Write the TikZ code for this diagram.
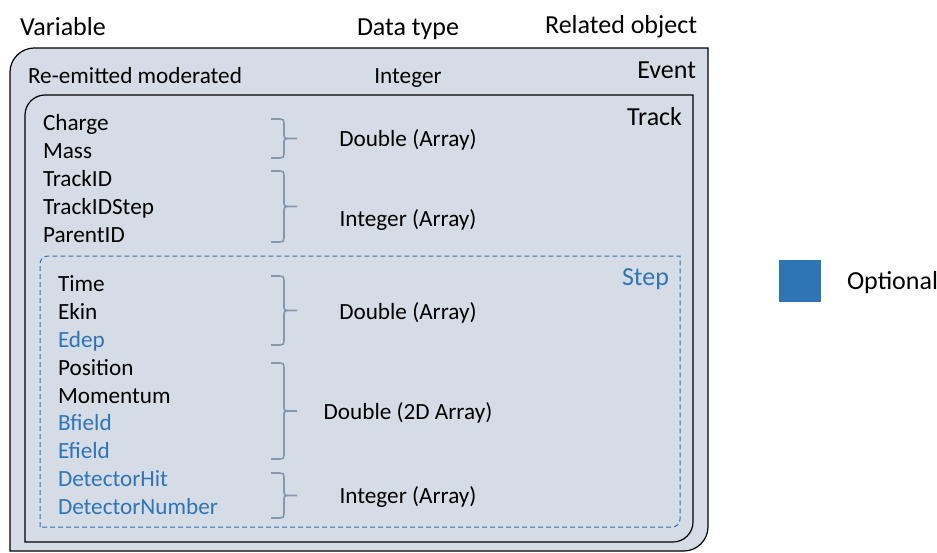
\documentclass[tikz,border=0pt]{standalone}
\usepackage{fontspec}
\setmainfont{Carlito}
\definecolor{boxfill}{HTML}{D6DCE5}
\definecolor{optblue}{HTML}{2E75B6}
\definecolor{bracecol}{HTML}{8497B0}
\begin{document}
\begin{tikzpicture}[x=1pt,y=-1pt,
  body/.style={inner sep=0pt,outer sep=0pt,font=\fontsize{23.2}{27}\selectfont},
  big/.style={inner sep=0pt,outer sep=0pt,font=\fontsize{26}{30}\selectfont},
  opt/.style={text=optblue},
  brc/.style={draw=bracecol,line width=1.6pt}]
\useasboundingbox (0,0) rectangle (937,552);
% containers
\path[draw=black,line width=1.2pt,fill=boxfill] (10,551) -- (10,72) .. controls (10,59) and (21,48) .. (34,48) -- (708,48) -- (708,527) .. controls (708,540) and (697,551) .. (684,551) -- cycle;
\path[draw=black,line width=1.2pt,fill=boxfill] (25,542) -- (25,115) .. controls (25,104) and (34,95) .. (45,95) -- (693,95) -- (693,522) .. controls (693,533) and (684,542) .. (673,542) -- cycle;
\path[draw=optblue,line width=1pt,dash pattern=on 5pt off 3pt] (40,527) -- (40,264) .. controls (40,259.5) and (43.5,256) .. (48,256) -- (680,256) -- (680,519) .. controls (680,523.5) and (676.5,527) .. (672,527) -- cycle;
% headers
\node[big,anchor=base west] (hvar) at (20,35) {Variable};
\node[big,anchor=base] (hdt) at (408,35) {Data type};
\node[big,anchor=base east] (hrel) at (697,33) {Related object};
% event
\node[big,anchor=base east] (event) at (696,78) {Event};
\node[body,anchor=base west] (reem) at (28,83) {Re-emitted moderated};
\node[body,anchor=base] (reint) at (408,83) {Integer};
% track
\node[big,anchor=base east] (track) at (682,125) {Track};
\node[body,anchor=base west] (charge) at (43,130) {Charge};
\node[body,anchor=base west] (mass) at (43,158) {Mass};
\node[body,anchor=base west] (tid) at (43,186) {TrackID};
\node[body,anchor=base west] (tids) at (43,214) {TrackIDStep};
\node[body,anchor=base west] (pid) at (43,242) {ParentID};
\node[body,anchor=base] (dt1) at (408,146) {Double (Array)};
\node[body,anchor=base] (dt2) at (408,226) {Integer (Array)};
% step
\node[big,anchor=base east,opt] (step) at (669,285) {Step};
\node[body,anchor=base west] (time) at (58,291) {Time};
\node[body,anchor=base west] (ekin) at (58,319) {Ekin};
\node[body,anchor=base west,opt] (edep) at (58,347) {Edep};
\node[body,anchor=base west] (pos) at (58,375) {Position};
\node[body,anchor=base west] (mom) at (58,403) {Momentum};
\node[body,anchor=base west,opt] (bf) at (58,430) {Bfield};
\node[body,anchor=base west,opt] (ef) at (58,458) {Efield};
\node[body,anchor=base west,opt] (dh) at (58,486) {DetectorHit};
\node[body,anchor=base west,opt] (dn) at (58,514) {DetectorNumber};
\node[body,anchor=base] (dt3) at (408,319) {Double (Array)};
\node[body,anchor=base] (dt4) at (408,419) {Double (2D Array)};
\node[body,anchor=base] (dt5) at (408,503) {Integer (Array)};
% braces
\foreach \t/\b in {119/158, 171/242, 276/345, 363/459, 473/518}{
  \pgfmathsetmacro{\m}{(\t+\b)/2}
  \draw[brc] (271,\t) -- (280,\t) .. controls (283,\t) and (284,\t+1) .. (284,\t+4) -- (284,\m-3) .. controls (284,\m-1) and (285,\m) .. (287,\m) -- (297,\m);
  \draw[brc] (287,\m) .. controls (285,\m) and (284,\m+1) .. (284,\m+3) -- (284,\b-4) .. controls (284,\b-1) and (283,\b) .. (280,\b) -- (271,\b);
}
% legend
\node[draw=none,fill=optblue,minimum width=42pt,minimum height=42pt,inner sep=0pt] (legbox) at (800,281) {};
\node[big,anchor=base west] (legtxt) at (847,289) {Optional};
\end{tikzpicture}
\end{document}
